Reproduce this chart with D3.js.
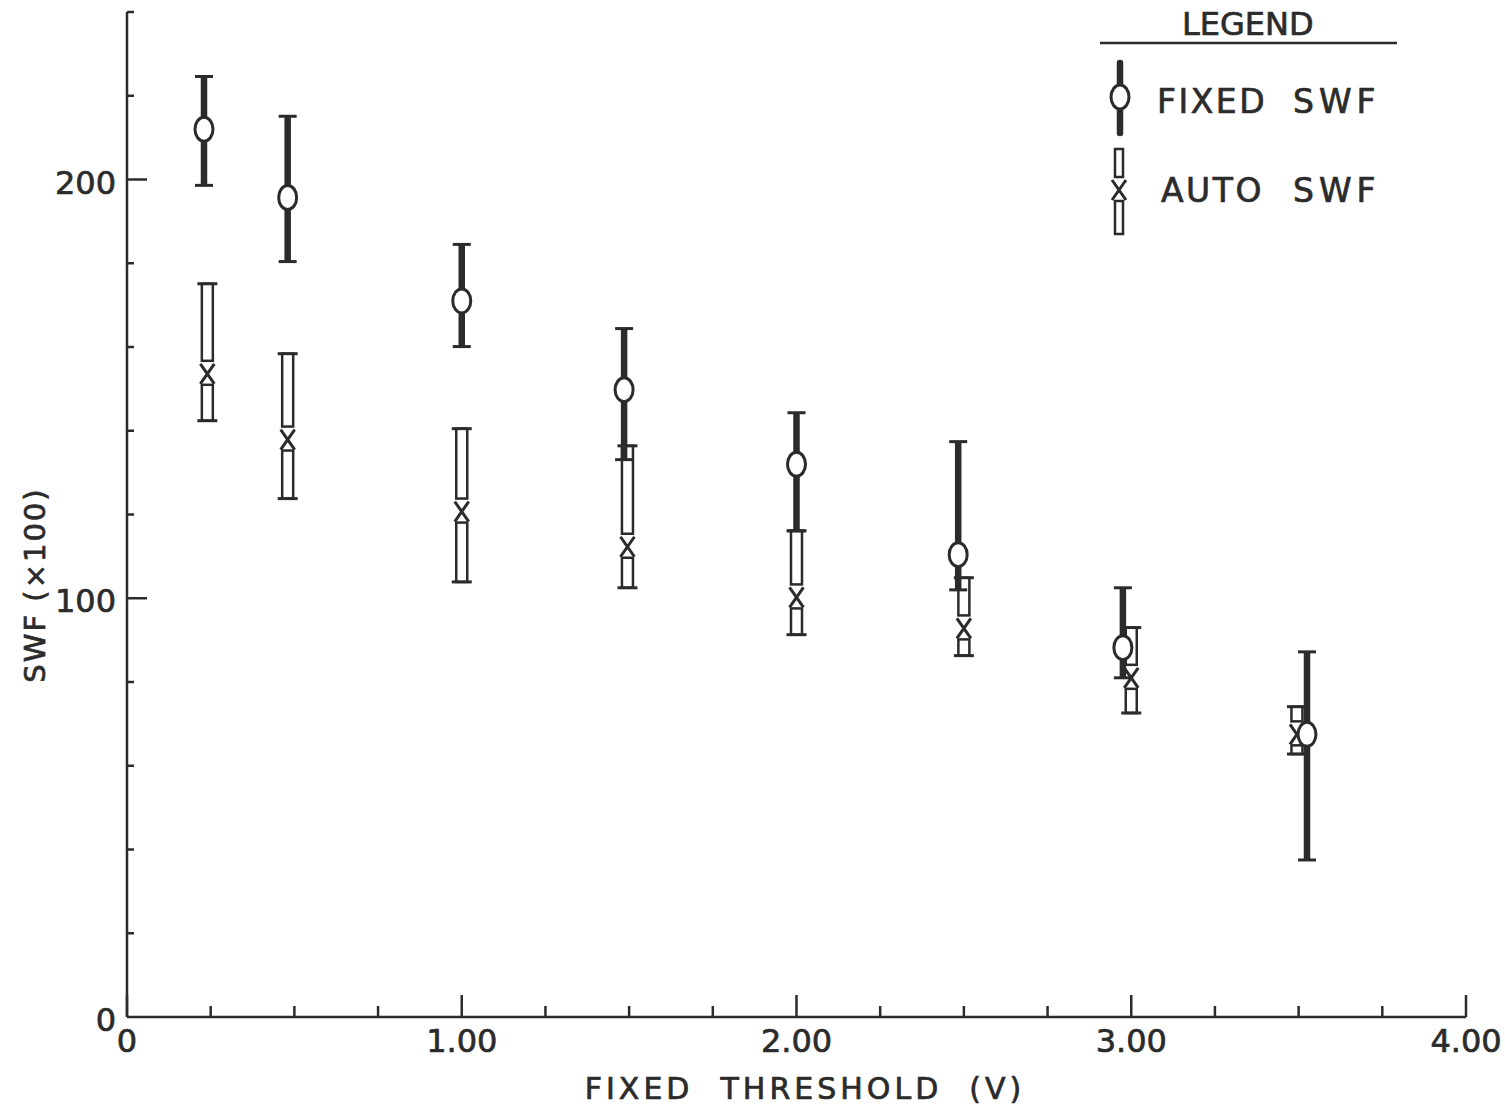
<!DOCTYPE html>
<html>
<head>
<meta charset="utf-8">
<script src="https://cdn.jsdelivr.net/npm/d3@7"></script>
<style>
  body { margin: 0; background: #fff; }
  svg text { font-family: "DejaVu Sans", sans-serif; fill: #2b2b2b; stroke: #2b2b2b; stroke-width: 0.7; }
</style>
</head>
<body>
<script>
// fixed threshold SWF (circle markers, solid bars)
var fixedX  = [0.23, 0.48, 1.00, 1.485, 2.00, 2.483, 2.975, 3.525];
var fixedY  = [212.0, 195.7, 171.0, 149.8, 132.0, 110.4, 88.2, 67.5];
var fixedHi = [224.6, 215.1, 184.5, 164.4, 144.3, 137.4, 102.5, 87.2];
var fixedLo = [198.6, 180.4, 160.1, 133.1, 116.1, 102.0, 81.0, 37.5];

// auto threshold SWF (x markers, open bars)
var autoX  = [0.24, 0.48, 1.00, 1.495, 2.00, 2.50, 3.00, 3.495];
var autoY  = [153.6, 137.9, 120.7, 112.3, 100.2, 92.8, 81.0, 67.5];
var autoHi = [175.1, 158.4, 140.5, 136.4, 116.1, 104.9, 93.0, 74.1];
var autoLo = [142.4, 123.8, 103.9, 102.5, 91.3, 86.3, 72.6, 62.8];

var xTicks = [0, 1, 2, 3, 4];
var xTickLabels = ["0", "1.00", "2.00", "3.00", "4.00"];
var yTicks = [0, 100, 200];
var yTickLabels = ["0", "100", "200"];

var W = 1505, H = 1108;
var ink = "#2b2b2b";

var svg = d3.select( "body" ).append( "svg" )
  .attr( "width", W ).attr( "height", H );

var x = d3.scaleLinear().domain( [0, 4] ).range( [127, 1466] );
var y = d3.scaleLinear().domain( [0, 240] ).range( [1017, 12] );

// axes -- ticks point inward like the original
var gx = svg.append( "g" ).attr( "transform", "translate(0," + y( 0 ) + ")" );
gx.append( "line" ).attr( "x1", x( 0 ) ).attr( "x2", x( 4 ) )
  .attr( "stroke", ink ).attr( "stroke-width", 2.5 );
gx.selectAll( ".xt" ).data( d3.range( 0, 4.001, 0.25 ) ).enter().append( "line" )
  .attr( "x1", function( d ){ return x( d ); } ).attr( "x2", function( d ){ return x( d ); } )
  .attr( "y1", 0 ).attr( "y2", function( d ){ return Math.abs( d - Math.round( d ) ) < 1e-6 ? -22 : -11; } )
  .attr( "stroke", ink ).attr( "stroke-width", 2.5 );
gx.selectAll( ".xl" ).data( xTicks ).enter().append( "text" )
  .attr( "x", function( d ){ return x( d ); } ).attr( "y", 35 )
  .attr( "text-anchor", "middle" ).attr( "font-size", 32 )
  .text( function( d, i ){ return xTickLabels[i]; } );

var gy = svg.append( "g" ).attr( "transform", "translate(" + x( 0 ) + ",0)" );
gy.append( "line" ).attr( "y1", y( 0 ) ).attr( "y2", y( 240 ) )
  .attr( "stroke", ink ).attr( "stroke-width", 2.5 );
gy.selectAll( ".yt" ).data( d3.range( 20, 240.1, 20 ) ).enter().append( "line" )
  .attr( "y1", function( d ){ return y( d ); } ).attr( "y2", function( d ){ return y( d ); } )
  .attr( "x1", 0 ).attr( "x2", function( d ){ return d % 100 === 0 ? 20 : 7; } )
  .attr( "stroke", ink ).attr( "stroke-width", 2.5 );
gy.selectAll( ".yl" ).data( yTicks ).enter().append( "text" )
  .attr( "x", -11 ).attr( "y", function( d ){ return y( d ) + 14; } )
  .attr( "text-anchor", "end" ).attr( "font-size", 32 )
  .text( function( d, i ){ return yTickLabels[i]; } );

// axis titles
svg.append( "text" )
  .attr( "x", 805 ).attr( "y", 1099 )
  .attr( "text-anchor", "middle" ).attr( "font-size", 30 )
  .attr( "letter-spacing", 4 ).attr( "xml:space", "preserve" )
  .text( "FIXED  THRESHOLD  (V)" );
svg.append( "text" )
  .attr( "transform", "translate(45,585) rotate(-90)" )
  .attr( "text-anchor", "middle" ).attr( "font-size", 29 )
  .attr( "letter-spacing", 2 ).attr( "xml:space", "preserve" )
  .text( "SWF (\u00d7100)" );

function drawFixed( g, cx, cy, top, bot, caps ){
  g.append( "line" ).attr( "x1", cx ).attr( "x2", cx ).attr( "y1", top ).attr( "y2", bot )
    .attr( "stroke", ink ).attr( "stroke-width", 6.5 ).attr( "stroke-linecap", caps ? "butt" : "round" );
  if( caps ){
    [top, bot].forEach( function( v ){
      g.append( "line" ).attr( "x1", cx - 9 ).attr( "x2", cx + 9 ).attr( "y1", v ).attr( "y2", v )
        .attr( "stroke", ink ).attr( "stroke-width", 3 );
    } );
  }
  g.append( "ellipse" ).attr( "cx", cx ).attr( "cy", cy ).attr( "rx", 9 ).attr( "ry", 12 )
    .attr( "fill", "#fff" ).attr( "stroke", ink ).attr( "stroke-width", 3 );
}

function drawAuto( g, cx, cy, top, bot, caps, w ){
  w = w || 11;
  if( top < cy - 13 ){
    g.append( "rect" ).attr( "x", cx - w / 2 ).attr( "y", top ).attr( "width", w )
      .attr( "height", cy - 13 - top )
      .attr( "fill", "#fff" ).attr( "stroke", ink ).attr( "stroke-width", 2.5 );
  }
  if( bot > cy + 11 ){
    g.append( "rect" ).attr( "x", cx - w / 2 ).attr( "y", cy + 11 ).attr( "width", w )
      .attr( "height", bot - cy - 11 )
      .attr( "fill", "#fff" ).attr( "stroke", ink ).attr( "stroke-width", 2.5 );
  }
  if( caps ){
    [top, bot].forEach( function( v ){
      g.append( "line" ).attr( "x1", cx - 10 ).attr( "x2", cx + 10 ).attr( "y1", v ).attr( "y2", v )
        .attr( "stroke", ink ).attr( "stroke-width", 3 );
    } );
  }
  g.append( "path" )
    .attr( "d", "M" + ( cx - 7 ) + "," + ( cy - 10 ) + "L" + ( cx + 7 ) + "," + ( cy + 10 ) +
                "M" + ( cx + 7 ) + "," + ( cy - 10 ) + "L" + ( cx - 7 ) + "," + ( cy + 10 ) )
    .attr( "stroke", ink ).attr( "stroke-width", 3 ).attr( "fill", "none" );
}

var marks = svg.append( "g" );
autoX.forEach( function( v, i ){
  drawAuto( marks.append( "g" ), x( v ), y( autoY[i] ), y( autoHi[i] ), y( autoLo[i] ), true );
} );
fixedX.forEach( function( v, i ){
  drawFixed( marks.append( "g" ), x( v ), y( fixedY[i] ), y( fixedHi[i] ), y( fixedLo[i] ), true );
} );

// legend
var lg = svg.append( "g" );
lg.append( "text" ).attr( "x", 1182 ).attr( "y", 35 )
  .attr( "font-size", 32 ).text( "LEGEND" );
lg.append( "line" ).attr( "x1", 1100 ).attr( "x2", 1397 ).attr( "y1", 43 ).attr( "y2", 43 )
  .attr( "stroke", ink ).attr( "stroke-width", 2.5 );
drawFixed( lg.append( "g" ), 1120, 97, 63, 133, false );
drawAuto( lg.append( "g" ), 1119, 190, 149, 234, false, 8 );
lg.append( "text" ).attr( "x", 1157 ).attr( "y", 113 ).attr( "font-size", 33 )
  .attr( "letter-spacing", 2.5 ).text( "FIXED" );
lg.append( "text" ).attr( "x", 1293 ).attr( "y", 113 ).attr( "font-size", 33 )
  .attr( "letter-spacing", 5 ).text( "SWF" );
lg.append( "text" ).attr( "x", 1161 ).attr( "y", 202 ).attr( "font-size", 33 )
  .attr( "letter-spacing", 2.5 ).text( "AUTO" );
lg.append( "text" ).attr( "x", 1293 ).attr( "y", 202 ).attr( "font-size", 33 )
  .attr( "letter-spacing", 5 ).text( "SWF" );
</script>
</body>
</html>
